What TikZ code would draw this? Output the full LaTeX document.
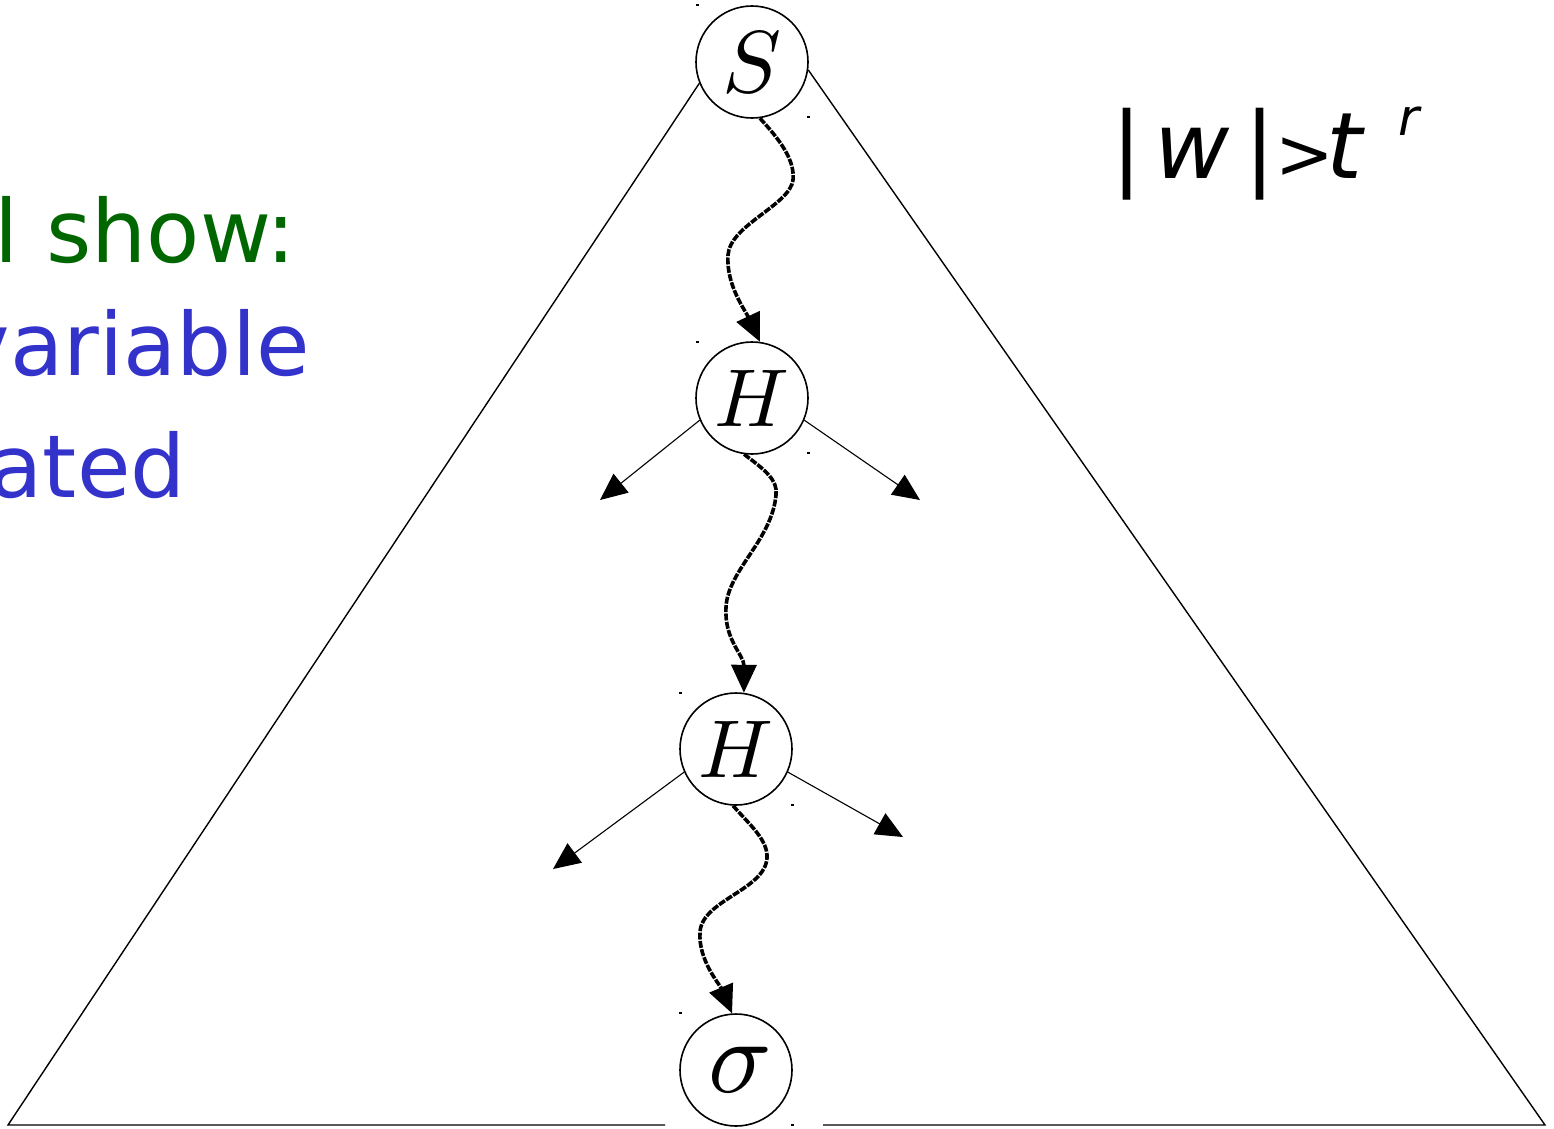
\documentclass[tikz,border=0pt]{standalone}
\usepackage{graphicx}
\usepackage{fontspec}
\newfontfamily\djv{DejaVu Sans}
\usetikzlibrary{arrows.meta}
\definecolor{tgreen}{RGB}{0,102,0}
\definecolor{tblue}{RGB}{51,51,204}
\tikzset{
  state/.style={circle, draw, line width=1.6pt, minimum size=112pt, inner sep=0pt},
  side/.style={line width=1.4pt},
  wavy/.style={line width=3.6pt, dash pattern=on 7pt off 1.4pt, -{Triangle[length=28pt,width=25pt]}},
  branch/.style={line width=1.1pt, -{Triangle[length=27pt,width=24pt]}},
  speck/.style={fill=black},
  lefttext/.style={anchor=base east, inner sep=0pt, font=\djv\fontsize{87}{87}\selectfont},
}
\begin{document}
\begin{tikzpicture}[x=1pt,y=-1pt]
\clip (0,0) rectangle (1554,1128);
\fill[white] (0,0) rectangle (1554,1128);

% nodes
\node[state] (S)  at (752,62)   {\scalebox{8.8}{$S$}};
\node[state] (H1) at (752,398)  {\scalebox{8.2}{$H$}};
\node[state] (H2) at (736,749)  {\scalebox{8.2}{$H$}};
\node[state] (sig) at (736,1070) {\hspace{8pt}\scalebox{10.5}{$\sigma$}};

% triangle
\coordinate (BL) at (8,1125);
\coordinate (BR) at (1545,1125);
\coordinate (GL) at (665,1125);
\coordinate (GR) at (823,1125);
\draw[side] (S.-158) -- (BL) -- (GL);
\draw[side] (S.-8) -- (BR) -- (GR);

% wavy derivation arrows
\draw[wavy] (S.-82) .. controls (780,140) and (795,160) .. (793,180)
  .. controls (790,205) and (730,225) .. (728,255)
  .. controls (726,285) and (745,310) .. (H1.82);
\draw[wavy] (H1.-98) .. controls (765,470) and (778,480) .. (776,495)
  .. controls (772,540) and (728,570) .. (726,607)
  .. controls (724,640) and (744,655) .. (H2.82);
\draw[wavy] (H2.-93) .. controls (750,825) and (768,840) .. (767,858)
  .. controls (765,890) and (702,900) .. (700,932)
  .. controls (698,960) and (720,985) .. (sig.94);

% branch arrows
\coordinate (a1) at (600,500);
\coordinate (a2) at (920,500);
\coordinate (a3) at (553,869);
\coordinate (a4) at (903,837);
\draw[branch] (H1.-157) -- (a1);
\draw[branch] (H1.-23) -- (a2);
\draw[branch] (H2.-156) -- (a3);
\draw[branch] (H2.-24) -- (a4);

% corner specks
\foreach \p in {(697,5),(808,117),(697,342),(808,453),(680,693),(792,805),(680,1013),(792,1125)}
  \fill[speck] \p ++(-1.5,-1) rectangle ++(3,2);

% left text
\node[lefttext, text=tgreen] (t1) at (296,262) {l show:};
\node[lefttext, text=tblue] (t2) at (310,375) {variable};
\node[lefttext, text=tblue] (t3) at (186,497) {ated};

% formula
\node[anchor=base west, inner sep=0pt, font=\djv\fontsize{92}{92}\selectfont] (f) at (1111,178)
  {|\hspace{12pt}\textit{w}\hspace{15pt}|{\fontsize{70}{70}\selectfont>}\hspace{-8pt}\textit{t}\hspace{33pt}\raisebox{43pt}{\fontsize{51}{51}\selectfont\textit{r}}};
\end{tikzpicture}
\end{document}
